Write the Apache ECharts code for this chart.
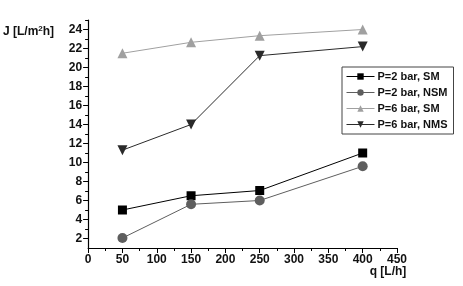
<!DOCTYPE html>
<html>
<head>
<meta charset="utf-8">
<script src="https://cdn.jsdelivr.net/npm/echarts@6/dist/echarts.min.js"></script>
<style>
  html, body { margin: 0; padding: 0; background: #fff; }
  #chart { width: 463px; height: 286px; }
</style>
</head>
<body>
<div id="chart"></div>
<script>
// flow rate q [L/h]
var flowRates = [50, 150, 250, 400];
var seriesNames = ['P=2 bar, SM', 'P=2 bar, NSM', 'P=6 bar, SM', 'P=6 bar, NMS'];
// flux J [L/m2h]
var p2SM = [5.0, 6.5, 7.05, 11.0];
var p2NSM = [2.05, 5.6, 6.0, 9.6];
var p6SM = [21.5, 22.65, 23.35, 24.0];
var p6NMS = [11.3, 14.0, 21.25, 22.2];
var yMajor = [2, 4, 6, 8, 10, 12, 14, 16, 18, 20, 22, 24];
var yMinor = [3, 5, 7, 9, 11, 13, 15, 17, 19, 21, 23, 25];

var chartDom = document.getElementById('chart');
var myChart = echarts.init(chartDom, null, {renderer: 'canvas'});

var font = 'Liberation Sans, Arial, sans-serif';

function pairs(vals) {
  return flowRates.map(function (q, i) { return [q, vals[i]]; });
}

function lineSeries(name, vals, color, symbol, size) {
  return {
    name: name,
    type: 'line',
    data: pairs(vals),
    symbol: symbol,
    symbolSize: size,
    itemStyle: { color: color },
    lineStyle: { color: color, width: 1 },
    emphasis: { disabled: true }
  };
}

var option = {
  animation: false,
  grid: { left: 88, right: 66, top: 20, bottom: 38 },
  legend: {
    orient: 'vertical',
    left: 342,
    top: 67,
    width: 113,
    padding: [4, 6, 4, 4],
    borderColor: '#444',
    borderWidth: 1,
    itemWidth: 28,
    itemHeight: 8,
    itemGap: 5,
    lineStyle: { width: 1 },
    data: seriesNames,
    textStyle: { fontFamily: font, fontSize: 11, fontWeight: 'bold', color: '#111', padding: [0, 0, 0, -2] }
  },
  xAxis: {
    type: 'value',
    min: 0,
    max: 450,
    interval: 50,
    name: 'q [L/h]',
    nameLocation: 'end',
    nameGap: 0,
    nameTextStyle: { fontFamily: font, fontSize: 12, fontWeight: 'bold', color: '#111', align: 'center', verticalAlign: 'top', padding: [18, 18, 0, 0] },
    splitLine: { show: false },
    axisLine: { lineStyle: { color: '#000', width: 1.2 } },
    axisTick: { length: 5, lineStyle: { color: '#000' } },
    minorTick: { show: true, splitNumber: 2, length: 3, lineStyle: { color: '#000' } },
    axisLabel: { fontFamily: font, fontSize: 12, fontWeight: 'bold', color: '#111', margin: 6 }
  },
  yAxis: [{
    type: 'value',
    min: 1,
    max: 25,
    name: '{n|J [L/m}{s|2}{n|h]}',
    nameLocation: 'end',
    nameGap: 0,
    nameTextStyle: {
      align: 'right',
      verticalAlign: 'middle',
      padding: [23, 34, 0, 0],
      rich: {
        n: { fontFamily: font, fontSize: 12, fontWeight: 'bold', color: '#111' },
        s: { fontFamily: font, fontSize: 8, fontWeight: 'bold', color: '#111', verticalAlign: 'top', padding: [0, 0, 6, 0] }
      }
    },
    splitLine: { show: false },
    axisLine: { show: true, lineStyle: { color: '#000', width: 1.2 } },
    axisTick: { show: true, length: 5, customValues: yMajor, lineStyle: { color: '#000' } },
    axisLabel: { fontFamily: font, fontSize: 12, fontWeight: 'bold', color: '#111', margin: 6, customValues: yMajor }
  }, {
    type: 'value',
    position: 'left',
    min: 1,
    max: 25,
    splitLine: { show: false },
    axisLine: { show: false },
    axisTick: { show: true, length: 3, customValues: yMinor, lineStyle: { color: '#000' } },
    axisLabel: { show: false }
  }],
  series: [
    lineSeries(seriesNames[0], p2SM, '#000000', 'rect', 9),
    lineSeries(seriesNames[1], p2NSM, '#5e5e5e', 'circle', 10),
    lineSeries(seriesNames[2], p6SM, '#a0a0a0', 'triangle', 10),
    lineSeries(seriesNames[3], p6NMS, '#2a2a2a', 'path://M0,0 L10,0 L5,9 Z', 10)
  ]
};

myChart.setOption(option);
</script>
</body>
</html>
